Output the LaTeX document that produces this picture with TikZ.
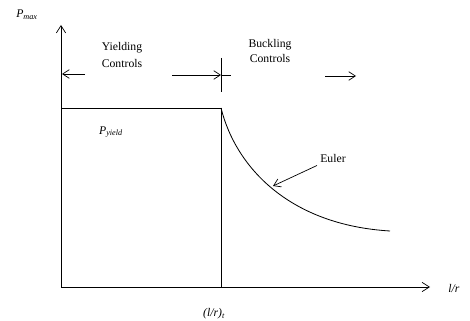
\documentclass[tikz,border=0pt]{standalone}
\usepackage{fontspec}
\setmainfont{Liberation Serif}
\usepackage{tikz}
\usetikzlibrary{arrows.meta,positioning}

\begin{document}
\begin{tikzpicture}[
  x=0.3mm, y=-0.3mm,
  lbl/.style={align=center, font=\normalsize, inner sep=1pt},
  ilbl/.style={font=\normalsize\itshape, inner sep=1pt},
  axis/.style={-{Straight Barb[length=2.2mm, width=2.8mm]}, line width=0.6pt},
  arr/.style={-{Straight Barb[length=2mm, width=2.6mm]}, line width=0.6pt},
  curve/.style={line width=0.7pt}
]
\useasboundingbox (0,0) rectangle (470,321);
% axes
\coordinate (O) at (61,287);
\coordinate (ytop) at (61,25);
\coordinate (xend) at (430,287);
\draw[axis] (O) -- (ytop);
\draw[axis] (O) -- (xend);
\node[ilbl] (pmax) at (27,15) {P\textsubscript{max}};
\node[ilbl, anchor=west] (lr) at (447,288) {l/r};
% yield plateau and limit
\coordinate (ytopl) at (61,108);
\coordinate (lim) at (221,108);
\coordinate (limfoot) at (221,287);
\draw[curve] (ytopl) -- (lim) -- (limfoot);
\node[ilbl] (pyield) at (111,132) {P\textsubscript{yield}};
\node[ilbl] (lrt) at (214,314) {(l/r)\textsubscript{t}};
% Euler curve
\coordinate (eulerend) at (390,231);
\draw[curve] (lim) .. controls (236,168) and (290,225) .. (eulerend);
\node[lbl] (euler) at (333,158) {Euler};
\coordinate (eulertip) at (273,186);
\draw[arr] (euler.south west) ++(-2,2) coordinate (eulertail) -- (eulertip);
% region labels
\node[lbl] (yld) at (122,55) {Yielding\\[2pt]Controls};
\node[lbl] (bkl) at (270,51) {Buckling\\[0pt]Controls};
\coordinate (tkt) at (221,58);
\coordinate (tkb) at (221,92);
\draw[curve] (tkt) -- (tkb);
\coordinate (lfa) at (85,74);
\coordinate (lfb) at (62,74);
\draw[arr] (lfa) -- (lfb);
\coordinate (mida) at (172,75);
\coordinate (midb) at (221,75);
\coordinate (midc) at (231,75);
\draw[arr] (mida) -- (midb);
\draw[curve] (midb) -- (midc);
\coordinate (rta) at (325,76);
\coordinate (rtb) at (356,76);
\draw[arr] (rta) -- (rtb);
\end{tikzpicture}
\end{document}
